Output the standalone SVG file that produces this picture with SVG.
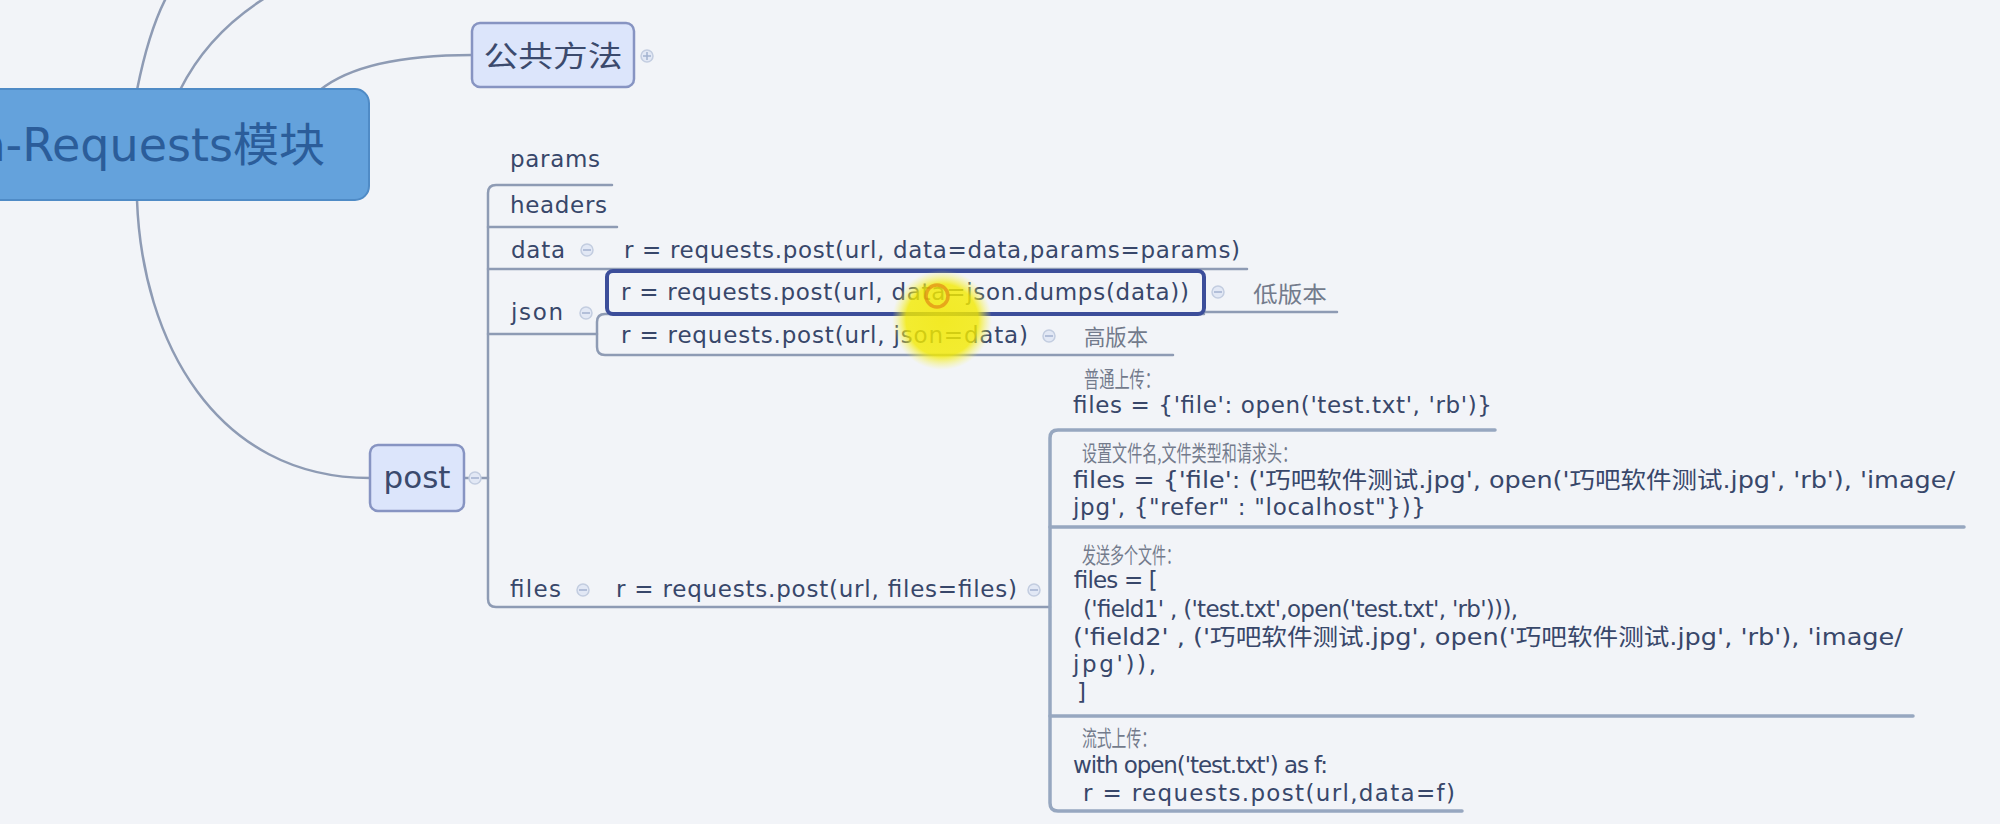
<svg xmlns="http://www.w3.org/2000/svg" width="2000" height="824" viewBox="0 0 2000 824">
<defs>
<style>
.bg{fill:#f2f4f8}
.ln{fill:none;stroke:#8e9bb4;stroke-width:2.5;stroke-linecap:round}
.ln2{fill:none;stroke:#97a7c0;stroke-width:3.5;stroke-linecap:round}
.code{font-family:"DejaVu Sans","Noto Sans CJK SC",sans-serif;font-size:23px;fill:#38476a}
.cn{font-family:"Noto Sans CJK SC",sans-serif;font-size:22px;fill:#737b8c}
.topic{fill:#dce5fb;stroke:#8794c2;stroke-width:2.5}
.tt{font-family:"DejaVu Sans","Noto Sans CJK SC",sans-serif;fill:#3b4a6d}
.ind{fill:#e2e8f5;stroke:#c3cde0;stroke-width:1.5}
.indm{stroke:#a3b2cf;stroke-width:1.5}
</style>
<radialGradient id="glow" cx="0.5" cy="0.5" r="0.5">
<stop offset="0" stop-color="#f2e800" stop-opacity="1"/>
<stop offset="0.72" stop-color="#f3ea00" stop-opacity="0.95"/>
<stop offset="1" stop-color="#f8f460" stop-opacity="0"/>
</radialGradient>
</defs>
<rect class="bg" x="0" y="0" width="2000" height="824"/>

<g id="connectors">
<path class="ln" d="M137,90 C144,55 152,25 166,-2"/>
<path class="ln" d="M180,90 C200,50 230,20 265,-2"/>
<path class="ln" d="M320,90 C350,66 400,55 472,55"/>
<path class="ln" d="M137,200 C142,340 215,478 370,478"/>
<path class="ln" d="M464,478 H488"/>
<path class="ln" d="M612,185 H496 Q488,185 488,193 V599 Q488,607 496,607 H1050"/>
<path class="ln" d="M488,227 H617"/>
<path class="ln" d="M488,269 H1247"/>
<path class="ln" d="M488,334 H597"/>
<path class="ln" d="M1204,314 H605 Q597,314 597,322 V347 Q597,355 605,355 H1173"/>
<path class="ln" d="M1204,312 H1337"/>
<path class="ln2" d="M1495,430 H1058 Q1050,430 1050,438 V803 Q1050,811 1058,811 H1462"/>
<path class="ln2" d="M1050,527 H1964"/>
<path class="ln2" d="M1050,716 H1913"/>
</g>

<g id="root">
<rect x="-20" y="89" width="389" height="111" rx="14" fill="#64a2dc" stroke="#4f8bc6" stroke-width="2"/>
<text x="325" y="161" text-anchor="end" font-family="DejaVu Sans, Noto Sans CJK SC, sans-serif" font-size="46" fill="#2b5d9a">n-Requests模块</text>
</g>

<g id="node-public">
<rect class="topic" x="472" y="23" width="162" height="64" rx="8"/>
<text class="tt" x="553" y="67" text-anchor="middle" font-size="29" textLength="139" lengthAdjust="spacingAndGlyphs" fill="#4a5675">公共方法</text>
<circle class="ind" cx="647" cy="56" r="6"/>
<path class="indm" d="M643,56 H651 M647,52 V60"/>
</g>

<g id="node-post">
<rect class="topic" x="370" y="445" width="94" height="66" rx="8"/>
<text class="tt" x="417" y="488" text-anchor="middle" font-size="31">post</text>
<circle class="ind" cx="475" cy="478" r="6"/>
<path class="indm" d="M471,478 H479"/>
</g>

<g id="node-params"><text class="code" x="510" y="167" textLength="90">params</text></g>
<g id="node-headers"><text class="code" x="510" y="213" textLength="97">headers</text></g>
<g id="node-data">
<text class="code" x="511" y="258" textLength="54">data</text>
<circle class="ind" cx="587" cy="250" r="6"/><path class="indm" d="M583,250 H591"/>
</g>
<g id="node-data-code"><text class="code" x="624" y="258" textLength="616">r = requests.post(url, data=data,params=params)</text></g>

<g id="node-json">
<text class="code" x="511" y="320" textLength="52">json</text>
<circle class="ind" cx="586" cy="313" r="6"/><path class="indm" d="M582,313 H590"/>
</g>
<g id="node-json-low">
<text class="code" x="621" y="300" textLength="568">r = requests.post(url, data=json.dumps(data))</text>
<rect x="607" y="271" width="597" height="43" rx="6" fill="none" stroke="#3c4e9a" stroke-width="4"/>
<circle class="ind" cx="1218" cy="292" r="6"/><path class="indm" d="M1214,292 H1222"/>
</g>
<g id="node-json-low-label"><text class="cn" x="1253" y="302" font-size="23" textLength="74" lengthAdjust="spacingAndGlyphs">低版本</text></g>
<g id="node-json-high">
<text class="code" x="621" y="343" textLength="407">r = requests.post(url, json=data)</text>
<circle class="ind" cx="1049" cy="336" r="6"/><path class="indm" d="M1045,336 H1053"/>
</g>
<g id="node-json-high-label"><text class="cn" x="1084" y="345" font-size="23" textLength="64" lengthAdjust="spacingAndGlyphs">高版本</text></g>

<g id="node-files">
<text class="code" x="510" y="597" textLength="51">files</text>
<circle class="ind" cx="583" cy="590" r="6"/><path class="indm" d="M579,590 H587"/>
</g>
<g id="node-files-code">
<text class="code" x="616" y="597" textLength="401">r = requests.post(url, files=files)</text>
<circle class="ind" cx="1034" cy="590" r="6"/><path class="indm" d="M1030,590 H1038"/>
</g>

<g id="node-upload-normal">
<text class="cn" x="1084" y="387" textLength="76" lengthAdjust="spacingAndGlyphs">普通上传：</text>
<text class="code" x="1073" y="413" textLength="419">files = {'file': open('test.txt', 'rb')}</text>
</g>

<g id="node-upload-headers">
<text class="cn" x="1082" y="461" textLength="215" lengthAdjust="spacingAndGlyphs">设置文件名,文件类型和请求头：</text>
<text class="code" x="1073" y="488" textLength="882" lengthAdjust="spacingAndGlyphs">files = {'file': ('巧吧软件测试.jpg', open('巧吧软件测试.jpg', 'rb'), 'image/</text>
<text class="code" x="1073" y="515" textLength="353">jpg', {"refer" : "localhost"})}</text>
</g>

<g id="node-upload-multi">
<text class="cn" x="1082" y="563" textLength="98" lengthAdjust="spacingAndGlyphs">发送多个文件：</text>
<text class="code" x="1073" y="588" textLength="84">files = [</text>
<text class="code" x="1083" y="617" textLength="435">('field1' , ('test.txt',open('test.txt', 'rb'))),</text>
<text class="code" x="1073" y="645" textLength="830" lengthAdjust="spacingAndGlyphs">('field2' , ('巧吧软件测试.jpg', open('巧吧软件测试.jpg', 'rb'), 'image/</text>
<text class="code" x="1073" y="672" textLength="83">jpg')),</text>
<text class="code" x="1077" y="700">]</text>
</g>

<g id="node-upload-stream">
<text class="cn" x="1082" y="746" textLength="74" lengthAdjust="spacingAndGlyphs">流式上传：</text>
<text class="code" x="1073" y="773" textLength="255">with open('test.txt') as f:</text>
<text class="code" x="1083" y="801" textLength="372">r = requests.post(url,data=f)</text>
</g>

<circle cx="942" cy="320" r="50" fill="url(#glow)" opacity="0.85"/>
<circle cx="937" cy="296" r="11" fill="none" stroke="#e07a10" stroke-width="3.5" opacity="0.6"/>
</svg>
